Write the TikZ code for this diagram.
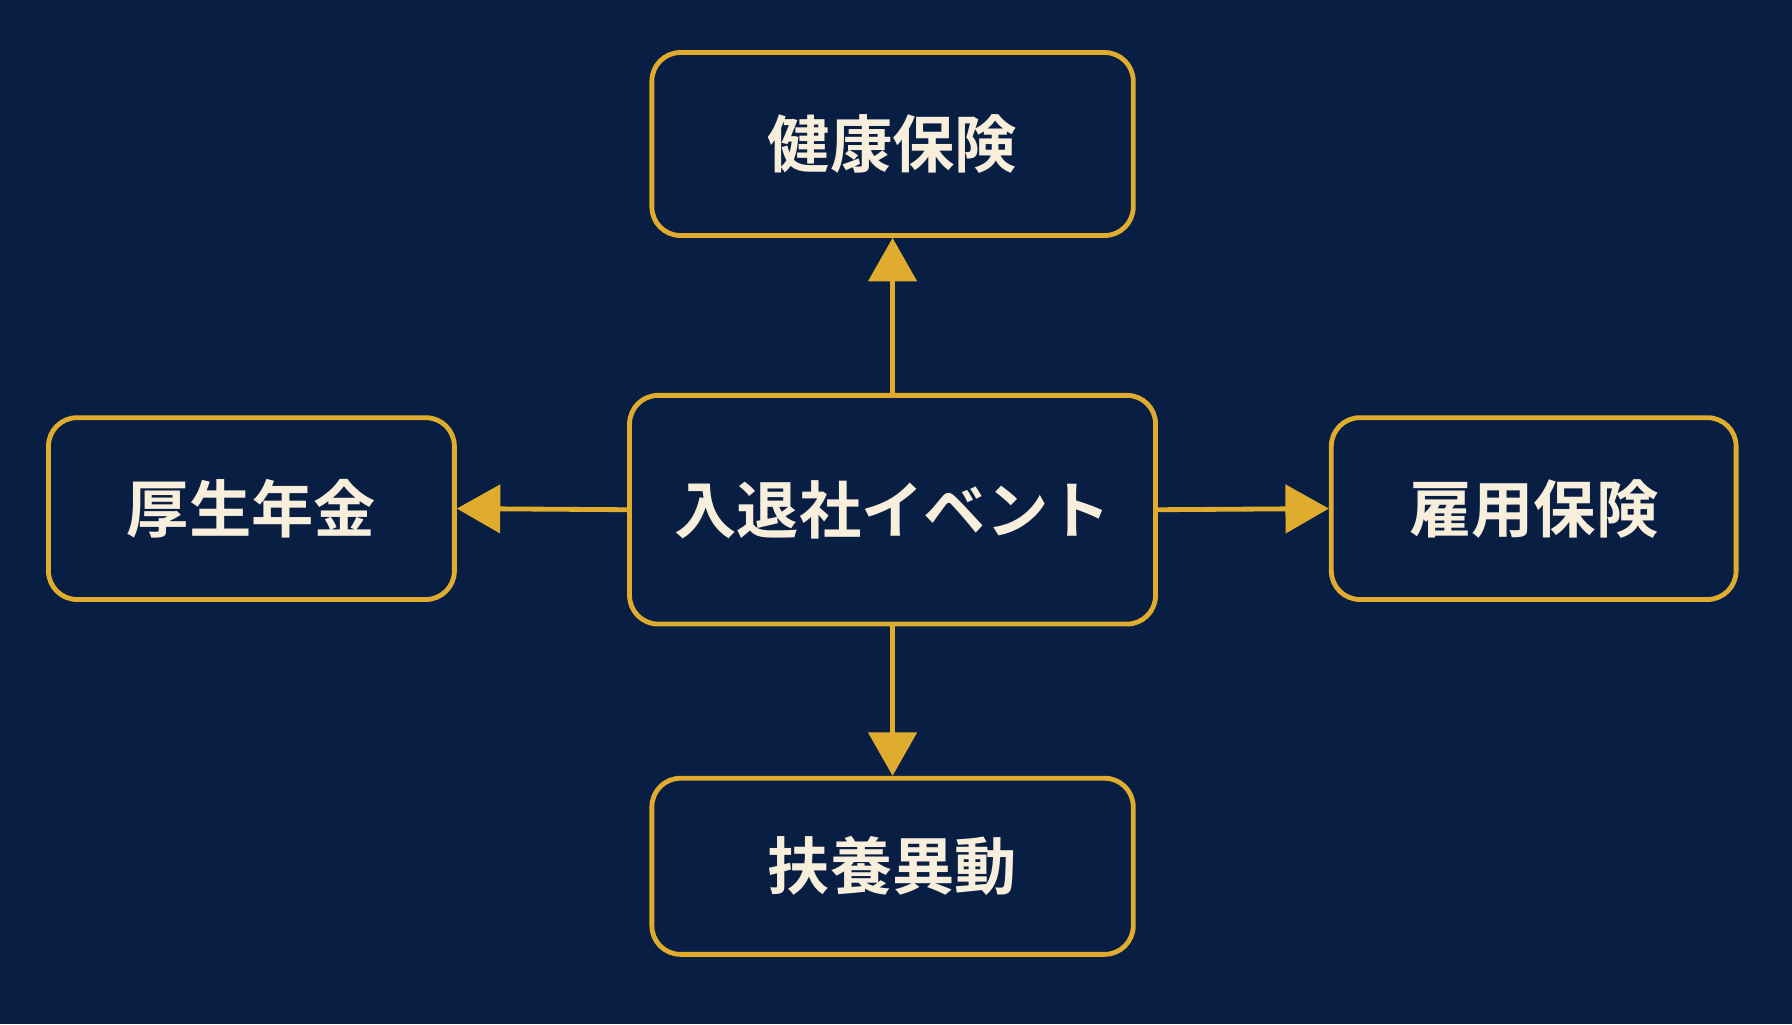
\documentclass[tikz,border=0pt]{standalone}
\usepackage{fontspec}
\newfontfamily\cjk{Noto Sans CJK JP Bold}
\usetikzlibrary{arrows.meta}
\definecolor{bg}{HTML}{081E42}
\definecolor{gold}{HTML}{E0AC2E}
\definecolor{txt}{HTML}{F8EEDC}
\begin{document}
\begin{tikzpicture}[x=0.01cm,y=-0.01cm,
  box/.style={draw=gold,line width=1.2pt,rounded corners=0.25cm,fill=bg,text=txt,
    font=\cjk\fontsize{15.5}{18}\selectfont,inner sep=0pt},
  arr/.style={draw=gold,line width=1.2pt,-{Triangle[width=0.42cm,length=0.38cm]}}]
\fill[bg] (0,0) rectangle (1568,896);
\useasboundingbox (0,0) rectangle (1568,896);
\node[box,minimum width=4.21cm,minimum height=1.6cm] (top) at (781,126) {健康保険};
\node[box,minimum width=4.6cm,minimum height=2.0cm] (c) at (781,446) {入退社イベント};
\node[box,minimum width=3.55cm,minimum height=1.59cm] (l) at (220,445) {厚生年金};
\node[box,minimum width=3.54cm,minimum height=1.59cm] (r) at (1342,445) {雇用保険};
\node[box,minimum width=4.21cm,minimum height=1.54cm] (b) at (781,758) {扶養異動};
\draw[arr] (c.north) -- (top.south);
\draw[arr] (c.south) -- (b.north);
\draw[arr] (c.west) -- (l.east);
\draw[arr] (c.east) -- (r.west);
\end{tikzpicture}
\end{document}
